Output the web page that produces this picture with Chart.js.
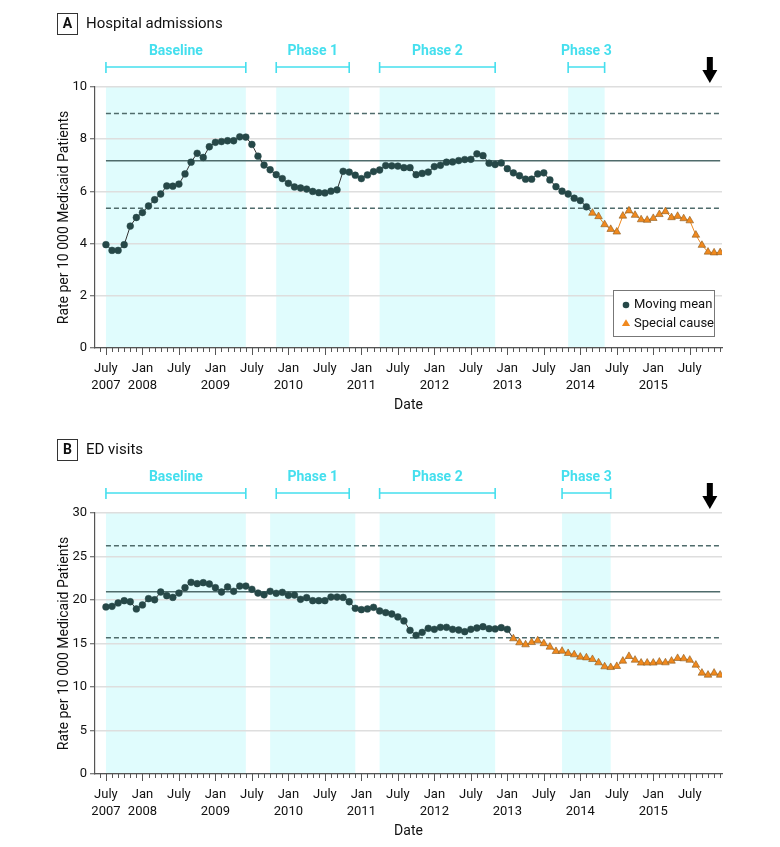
<!DOCTYPE html>
<html>
<head>
<meta charset="utf-8">
<script src="https://cdn.jsdelivr.net/npm/chart.js@4.4.1/dist/chart.umd.min.js"></script>
<style>
  body { margin: 0; background: #fff; }
  #wrap { position: relative; width: 780px; height: 847px; }
  canvas { position: absolute; left: 0; }
</style>
</head>
<body>
<div id="wrap">
  <canvas id="admissions" width="780" height="421" style="top:0"></canvas>
  <canvas id="edvisits" width="780" height="421" style="top:426px"></canvas>
</div>
<script>
// months counted from July 2007 (0) to Dec 2015 (101)
const tickMonths = [0, 6, 12, 18, 24, 30, 36, 42, 48, 54, 60, 66, 72, 78, 84, 90, 96];
const xTickLabels = [
  ["July", "2007"], ["Jan", "2008"], ["July", ""], ["Jan", "2009"], ["July", ""],
  ["Jan", "2010"], ["July", ""], ["Jan", "2011"], ["July", ""], ["Jan", "2012"],
  ["July", ""], ["Jan", "2013"], ["July", ""], ["Jan", "2014"], ["July", ""],
  ["Jan", "2015"], ["July", ""]
];

const admissions = [
  3.96, 3.74, 3.74, 3.96, 4.67, 5.00, 5.19, 5.44, 5.68, 5.90, 6.21, 6.20,
  6.28, 6.67, 7.12, 7.46, 7.30, 7.71, 7.88, 7.91, 7.94, 7.94, 8.09, 8.08,
  7.80, 7.35, 7.01, 6.83, 6.64, 6.49, 6.31, 6.17, 6.13, 6.09, 6.00, 5.95,
  5.94, 6.01, 6.06, 6.77, 6.74, 6.62, 6.49, 6.63, 6.76, 6.82, 6.99, 6.98,
  6.97, 6.91, 6.91, 6.64, 6.69, 6.74, 6.95, 7.00, 7.12, 7.13, 7.18, 7.22,
  7.23, 7.44, 7.37, 7.08, 7.03, 7.09, 6.87, 6.71, 6.60, 6.47, 6.47, 6.67,
  6.71, 6.44, 6.18, 6.01, 5.90, 5.74, 5.65, 5.41, 5.17, 5.04, 4.73, 4.55,
  4.45, 5.06, 5.26, 5.09, 4.92, 4.90, 4.97, 5.12, 5.23, 5.00, 5.05, 4.96,
  4.88, 4.33, 3.94, 3.68, 3.65, 3.66
];
const admissionsLimits = [5.35, 7.17, 8.98]; // lower, mean, upper
const admissionsSpecialFrom = 80;

const edVisits = [
  19.20, 19.27, 19.66, 19.92, 19.80, 18.97, 19.43, 20.15, 20.03, 20.92, 20.50, 20.30,
  20.80, 21.42, 22.03, 21.88, 21.99, 21.84, 21.42, 20.92, 21.50, 21.00, 21.60, 21.60,
  21.23, 20.80, 20.60, 21.00, 20.77, 20.88, 20.54, 20.57, 20.08, 20.27, 19.92, 19.92,
  19.92, 20.34, 20.34, 20.30, 19.80, 19.04, 18.89, 18.97, 19.16, 18.74, 18.55, 18.39,
  18.05, 17.60, 16.51, 15.94, 16.28, 16.74, 16.63, 16.86, 16.86, 16.63, 16.55, 16.36,
  16.63, 16.78, 16.93, 16.70, 16.67, 16.82, 16.63, 15.56, 15.10, 14.87, 15.13, 15.33,
  15.00, 14.60, 14.10, 14.13, 13.87, 13.72, 13.45, 13.37, 13.18, 12.80, 12.34, 12.26,
  12.38, 12.99, 13.53, 13.10, 12.77, 12.77, 12.77, 12.88, 12.80, 12.99, 13.30, 13.26,
  13.10, 12.53, 11.61, 11.38, 11.61, 11.38
];
const edLimits = [15.67, 20.96, 26.24];
const edSpecialFrom = 67;

const phaseNames = ["Baseline", "Phase 1", "Phase 2", "Phase 3"];
const admissionsShade = [[0, 23], [28, 40], [45, 64], [76, 82]];
const admissionsBrackets = [[0, 23], [28, 40], [45, 64], [76, 82]];
const edShade = [[0, 23], [27, 41], [45, 64], [75, 83]];
const edBrackets = [[0, 23], [28, 40], [45, 64], [75, 83]];
const arrowMonth = 99.3;

const FONT = "Roboto, 'Liberation Sans', sans-serif";
const DARK = "#264848";
const ORANGE = "#f0891e";
const CYAN = "#45dfee";

function drawTriangle(ctx, x, y, r) {
  ctx.beginPath();
  ctx.moveTo(x, y - r);
  ctx.lineTo(x + r * 0.95, y + r * 0.6);
  ctx.lineTo(x - r * 0.95, y + r * 0.6);
  ctx.closePath();
}

function makeChart(id, cfg) {
  const extras = {
    id: "extras",
    beforeDraw(chart) {
      const ctx = chart.ctx, xs = chart.scales.x, a = chart.chartArea;
      ctx.save();
      ctx.fillStyle = "#e0fcfd";
      for (const [s, e] of cfg.shade) {
        const x0 = xs.getPixelForValue(s), x1 = xs.getPixelForValue(e);
        ctx.fillRect(x0, a.top, x1 - x0, a.bottom - a.top);
      }
      ctx.restore();
    },
    afterDraw(chart) {
      const ctx = chart.ctx, xs = chart.scales.x, a = chart.chartArea;
      ctx.save();
      // x tick marks, every month
      ctx.strokeStyle = "#555";
      ctx.lineWidth = 1;
      for (let m = -1; m <= 101; m++) {
        const x = Math.round(xs.getPixelForValue(m)) + 0.5;
        ctx.beginPath();
        ctx.moveTo(x, a.bottom);
        ctx.lineTo(x, a.bottom + (m % 6 === 0 ? 7 : 4));
        ctx.stroke();
      }
      // panel letter and title
      ctx.strokeStyle = "#333";
      ctx.strokeRect(57.5, 13.5, 20, 21);
      ctx.fillStyle = "#111";
      ctx.textBaseline = "middle";
      ctx.textAlign = "center";
      ctx.font = "bold 14px " + FONT;
      ctx.fillText(cfg.letter, 67.5, 24.5);
      ctx.textAlign = "left";
      ctx.font = "15px " + FONT;
      ctx.fillText(cfg.title, 86, 24.5);
      // phase brackets
      ctx.strokeStyle = CYAN;
      ctx.fillStyle = CYAN;
      ctx.lineWidth = 1.6;
      ctx.textAlign = "center";
      ctx.font = "bold 14px " + FONT;
      cfg.brackets.forEach(([s, e], k) => {
        const x0 = xs.getPixelForValue(s), x1 = xs.getPixelForValue(e), y = 67;
        ctx.beginPath();
        ctx.moveTo(x0, y); ctx.lineTo(x1, y);
        ctx.moveTo(x0, y - 5); ctx.lineTo(x0, y + 6);
        ctx.moveTo(x1, y - 5); ctx.lineTo(x1, y + 6);
        ctx.stroke();
        ctx.fillText(phaseNames[k], (x0 + x1) / 2, 51);
      });
      // arrow
      const ax = xs.getPixelForValue(arrowMonth);
      ctx.fillStyle = "#000";
      ctx.fillRect(ax - 3, 57, 6, 14);
      ctx.beginPath();
      ctx.moveTo(ax - 7.5, 70); ctx.lineTo(ax + 7.5, 70); ctx.lineTo(ax, 83);
      ctx.closePath();
      ctx.fill();
      // axis titles
      ctx.fillStyle = "#111";
      ctx.font = "14px " + FONT;
      ctx.textAlign = "center";
      ctx.fillText("Date", (a.left + a.right) / 2, 405);
      ctx.translate(64, (a.top + a.bottom) / 2);
      ctx.rotate(-Math.PI / 2);
      ctx.fillText("Rate per 10 000 Medicaid Patients", 0, 0);
      ctx.setTransform(1, 0, 0, 1, 0, 0);
      // legend
      if (cfg.legend) {
        ctx.fillStyle = "#fff";
        ctx.fillRect(613.5, 290.5, 101, 46);
        ctx.strokeStyle = "#777";
        ctx.lineWidth = 1;
        ctx.strokeRect(613.5, 290.5, 101, 46);
        ctx.fillStyle = DARK;
        ctx.beginPath();
        ctx.arc(626, 305, 3.3, 0, Math.PI * 2);
        ctx.fill();
        ctx.fillStyle = ORANGE;
        drawTriangle(ctx, 626, 323.5, 4.3);
        ctx.fill();
        ctx.fillStyle = "#111";
        ctx.textAlign = "left";
        ctx.font = "13px " + FONT;
        ctx.fillText("Moving mean", 634, 305);
        ctx.fillText("Special cause", 634, 323.5);
      }
      ctx.restore();
    }
  };

  const pts = cfg.values.map((v, i) => ({ x: i, y: v }));
  const last = cfg.values.length - 1;
  const special = (i) => i >= cfg.specialFrom;
  const limitLine = (v, dash) => ({
    data: [{ x: 0, y: v }, { x: last, y: v }],
    borderColor: "#4f6b6b",
    borderWidth: 1.5,
    borderDash: dash,
    pointRadius: 0
  });

  return new Chart(document.getElementById(id), {
    type: "line",
    data: {
      datasets: [
        {
          data: pts,
          borderColor: "#333",
          borderWidth: 1,
          segment: {
            borderColor: (c) => (special(c.p1DataIndex) && special(c.p0DataIndex) ? ORANGE : "#333")
          },
          pointStyle: (c) => (special(c.dataIndex) ? "triangle" : "circle"),
          pointRadius: (c) => (special(c.dataIndex) ? 4.4 : 3.4),
          pointBackgroundColor: (c) => (special(c.dataIndex) ? ORANGE : DARK),
          pointBorderColor: (c) => (special(c.dataIndex) ? "#8a5a20" : DARK),
          pointBorderWidth: (c) => (special(c.dataIndex) ? 0.6 : 0.5)
        },
        limitLine(cfg.limits[1], []),
        limitLine(cfg.limits[0], [5, 3]),
        limitLine(cfg.limits[2], [5, 3])
      ]
    },
    options: {
      responsive: false,
      animation: false,
      devicePixelRatio: 1,
      layout: { padding: { left: 0, right: 58, top: 87, bottom: 0 } },
      plugins: { legend: { display: false }, tooltip: { enabled: false } },
      scales: {
        x: {
          type: "linear",
          min: -1.8,
          max: 101.3,
          afterFit: (s) => { s.height = 73; },
          afterBuildTicks: (s) => { s.ticks = tickMonths.map((v) => ({ value: v })); },
          grid: { display: false },
          border: { display: true, color: "#555", width: 1.2 },
          ticks: {
            autoSkip: false,
            maxRotation: 0,
            padding: 4,
            color: "#111",
            font: { family: FONT, size: 13, lineHeight: 1.3 },
            callback: (v, i) => xTickLabels[i]
          }
        },
        y: {
          min: 0,
          max: cfg.yMax,
          afterFit: (s) => { s.width = 95; },
          grid: { color: "#dedede", lineWidth: 1.5, tickLength: 5, tickColor: "#555", tickWidth: 1 },
          border: { display: true, color: "#555", width: 1.2 },
          ticks: {
            stepSize: cfg.yStep,
            padding: 3,
            color: "#111",
            font: { family: FONT, size: 13 }
          }
        }
      }
    },
    plugins: [extras]
  });
}

makeChart("admissions", {
  letter: "A", title: "Hospital admissions",
  values: admissions, limits: admissionsLimits, specialFrom: admissionsSpecialFrom,
  shade: admissionsShade, brackets: admissionsBrackets,
  yMax: 10, yStep: 2, legend: true
});
makeChart("edvisits", {
  letter: "B", title: "ED visits",
  values: edVisits, limits: edLimits, specialFrom: edSpecialFrom,
  shade: edShade, brackets: edBrackets,
  yMax: 30, yStep: 5, legend: false
});
</script>
</body>
</html>
